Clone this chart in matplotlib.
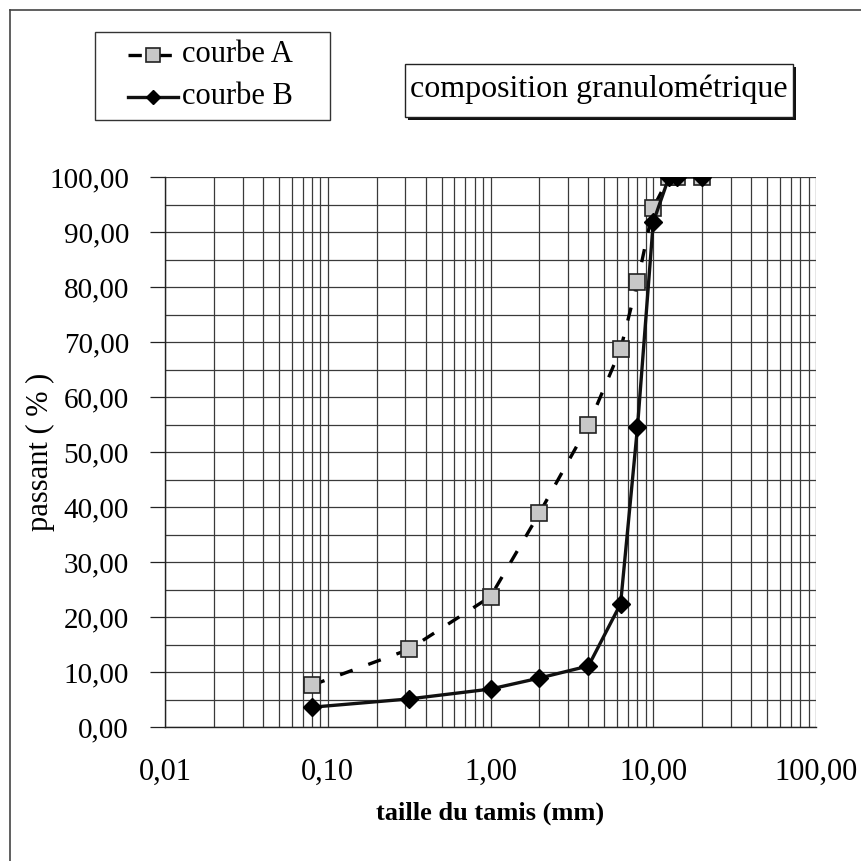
import matplotlib
matplotlib.use("Agg")
import matplotlib.pyplot as plt
from matplotlib.patches import Rectangle
from matplotlib.lines import Line2D
from matplotlib.ticker import FixedLocator, FuncFormatter, LogLocator, NullFormatter
import numpy as np

plt.rcParams['font.family'] = ['Liberation Serif', 'DejaVu Serif']

# Data
sieve_mm = [0.08, 0.315, 1.0, 2.0, 4.0, 6.3, 8.0, 10.0, 12.5, 14.0, 20.0]
courbe_A = [7.6, 14.1, 23.7, 38.9, 54.9, 68.7, 80.9, 94.4, 100.0, 100.0, 100.0]
courbe_B = [3.6, 5.1, 6.9, 8.9, 11.1, 22.4, 54.5, 91.8, 100.0, 100.0, 100.0]
x_ticks = [0.01, 0.1, 1.0, 10.0, 100.0]
y_ticks = [0, 10, 20, 30, 40, 50, 60, 70, 80, 90, 100]
series_labels = ["courbe A", "courbe B"]
title_text = "composition granulométrique"
xlabel = "taille du tamis (mm)"
ylabel = "passant ( % )"

W = H = 861
fig = plt.figure(figsize=(W / 100, H / 100), dpi=100)

def fx(px):
    return px / W

def fy(py):
    return 1 - py / H

L, R, T, B = 165, 816, 177, 727
ax = fig.add_axes([fx(L), fy(B), (R - L) / W, (B - T) / H])
ax.set_xscale('log')
ax.set_xlim(0.01, 100)
ax.set_ylim(0, 100)

# grid
ax.xaxis.set_major_locator(FixedLocator(x_ticks))
ax.xaxis.set_minor_locator(LogLocator(base=10, subs=np.arange(2, 10)))
ax.xaxis.set_minor_formatter(NullFormatter())
ax.yaxis.set_major_locator(FixedLocator(y_ticks))
ax.yaxis.set_minor_locator(FixedLocator(np.arange(5, 100, 10)))
ax.grid(True, which='both', axis='both', color='#3a3a3a', linewidth=0.9)
ax.set_axisbelow(True)

fmt = FuncFormatter(lambda v, p: ("%.2f" % v).replace('.', ','))
ax.xaxis.set_major_formatter(fmt)
ax.yaxis.set_major_formatter(fmt)
ax.tick_params(axis='x', which='both', length=0, pad=22, labelsize=22)
ax.tick_params(axis='y', which='major', length=11, width=0.9, pad=15, labelsize=21, color='#222')
ax.tick_params(axis='y', which='minor', length=0)

for s in ['top', 'right']:
    ax.spines[s].set_visible(False)
for s in ['left', 'bottom']:
    ax.spines[s].set_color('#222')
    ax.spines[s].set_linewidth(1.0)

styleA = dict(color='black', linewidth=2.4, linestyle=(0, (4, 5)),
              marker='s', markersize=12, markerfacecolor='#c8c8c8',
              markeredgecolor='#222', markeredgewidth=1.2)
styleB = dict(color='#111', linewidth=2.4, linestyle='-',
              marker='D', markersize=9, markerfacecolor='black',
              markeredgecolor='black')
ax.plot(sieve_mm, courbe_A, zorder=4, **styleA)
ax.plot(sieve_mm, courbe_B, zorder=5, **styleB)

fig.text(fx(490), fy(813), xlabel, fontsize=19, fontweight='bold', ha='center', va='center')
fig.text(fx(40), fy(452), ylabel, fontsize=22, rotation=90, ha='center', va='center')

# legend (drawn manually, Excel style)
lx0, lx1, ly0, ly1 = 95, 330, 32, 120
fig.patches.append(Rectangle((fx(lx0), fy(ly1)), (lx1 - lx0) / W, (ly1 - ly0) / H,
                             transform=fig.transFigure, facecolor='white', edgecolor='#333',
                             linewidth=1.0, zorder=2))
rows_y = [55, 97]
for lab, yy, st in zip(series_labels, rows_y, [styleA, styleB]):
    st2 = dict(st)
    st2['markersize'] = st['markersize'] * 0.8
    handle = Line2D([fx(128), fx(178)], [fy(yy), fy(yy)], transform=fig.transFigure,
                    **{k: v for k, v in st2.items() if not k.startswith('marker')})
    handle.set_zorder(3)
    fig.add_artist(handle)
    mk = Line2D([fx(153)], [fy(yy)], transform=fig.transFigure, linestyle='none',
                **{k: v for k, v in st2.items() if k.startswith('marker')})
    mk.set_zorder(4)
    fig.add_artist(mk)
    fig.text(fx(182), fy(yy), lab, fontsize=22, ha='left', va='center', zorder=4)

# title box with shadow
bx0, bx1, by0, by1 = 405, 793, 64, 117
fig.patches.append(Rectangle((fx(bx0 + 3), fy(by1 + 3)), (bx1 - bx0) / W, (by1 - by0) / H,
                             transform=fig.transFigure, facecolor='#111', edgecolor='none', zorder=1))
fig.patches.append(Rectangle((fx(bx0), fy(by1)), (bx1 - bx0) / W, (by1 - by0) / H,
                             transform=fig.transFigure, facecolor='white', edgecolor='#222',
                             linewidth=1.0, zorder=2))
fig.text(fx((bx0 + bx1) / 2), fy((by0 + by1) / 2 - 1), title_text, fontsize=23,
         ha='center', va='center', zorder=3)

# outer frame (left and top edges)
fig.add_artist(Line2D([fx(10), fx(10)], [fy(10), 0], transform=fig.transFigure, color='#444', lw=1.2))
fig.add_artist(Line2D([fx(10), 1], [fy(10), fy(10)], transform=fig.transFigure, color='#444', lw=1.2))

fig.savefig("out.png", dpi=100)
